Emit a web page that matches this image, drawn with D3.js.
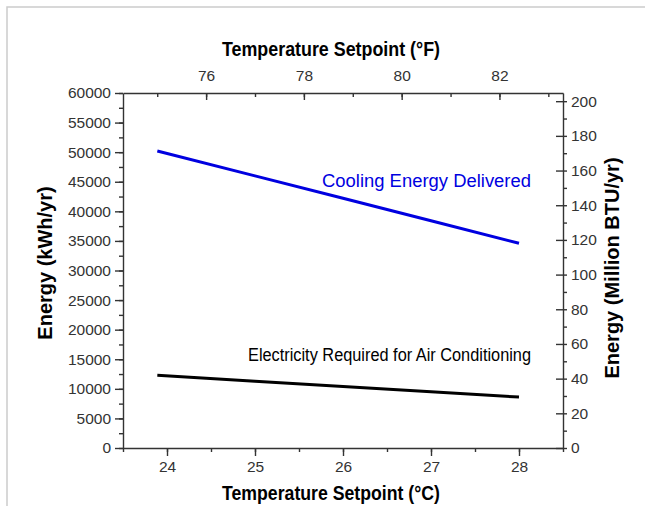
<!DOCTYPE html>
<html>
<head>
<meta charset="utf-8">
<script src="https://cdn.jsdelivr.net/npm/d3@7"></script>
<style>
  body { margin: 0; background: #fff; }
  svg { font-family: "Liberation Sans", Arial, sans-serif; }
  .tick text { fill: #333; font-size: 15.5px; }
  .axis path, .axis line { stroke: #333; stroke-width: 1.4; }
</style>
</head>
<body>
<svg width="645" height="506"></svg>
<script>
// temperature setpoints (°C) and annual energy (kWh/yr)
var tempC = [23.89, 25, 26, 27, 28];
var cooling = [50200, 46000, 42200, 38400, 34600];
var electricity = [12300, 11300, 10400, 9500, 8600];

var cTicks = [24, 25, 26, 27, 28];
var fTicks = [76, 78, 80, 82];
var kwhTicks = [0, 5000, 10000, 15000, 20000, 25000, 30000, 35000, 40000, 45000, 50000, 55000, 60000];
var btuTicks = [0, 20, 40, 60, 80, 100, 120, 140, 160, 180, 200];

var KWH_TO_MBTU = 0.003412;

var svg = d3.select("svg");
var mLeft = 123, mRight = 563, mTop = 93, mBottom = 448;

// faint frame around the figure
svg.append("rect")
  .attr("x", 7).attr("y", 7).attr("width", 700).attr("height", 600)
  .attr("fill", "none").attr("stroke", "#ccc").attr("stroke-width", 1.5);

var x = d3.scaleLinear().domain([23.5, 28.5]).range([mLeft, mRight]);
var xF = d3.scaleLinear().domain([23.5 * 1.8 + 32, 28.5 * 1.8 + 32]).range([mLeft, mRight]);
var y = d3.scaleLinear().domain([0, 60000]).range([mBottom, mTop]);
var yR = d3.scaleLinear().domain([0, 60000 * KWH_TO_MBTU]).range([mBottom, mTop]);

// minor ticks first
function minor(axis, tr) {
  svg.append("g").attr("class", "axis").attr("transform", tr)
    .call(axis).call(g => g.selectAll("text").remove()).call(g => g.select(".domain").remove());
}
minor(d3.axisBottom(x).tickValues(d3.range(23.5, 28.51, 0.5)).tickSize(4), `translate(0,${mBottom})`);
minor(d3.axisBottom(xF).tickValues(d3.range(75, 84, 1)).tickSize(4), `translate(0,${mTop})`);
minor(d3.axisLeft(y).tickValues(d3.range(0, 60001, 2500)).tickSize(4), `translate(${mLeft},0)`);
minor(d3.axisLeft(yR).tickValues(d3.range(0, 201, 10)).tickSize(-4), `translate(${mRight},0)`);

// major axes
svg.append("g").attr("class", "axis")
  .attr("transform", `translate(0,${mBottom})`)
  .call(d3.axisBottom(x).tickValues(cTicks).tickFormat(d3.format("d"))
    .tickSize(8).tickSizeOuter(0).tickPadding(5));

svg.append("g").attr("class", "axis top")
  .attr("transform", `translate(0,${mTop})`)
  .call(d3.axisTop(xF).tickValues(fTicks).tickFormat(d3.format("d")).tickSizeOuter(0).tickPadding(6))
  .call(g => g.selectAll(".tick line").attr("y2", 7));

svg.append("g").attr("class", "axis")
  .attr("transform", `translate(${mLeft},0)`)
  .call(d3.axisLeft(y).tickValues(kwhTicks).tickFormat(d3.format("d")).tickSize(8).tickSizeOuter(0).tickPadding(4));

svg.append("g").attr("class", "axis right")
  .attr("transform", `translate(${mRight},0)`)
  .call(d3.axisRight(yR).tickValues(btuTicks).tickFormat(d3.format("d")).tickSizeOuter(0).tickPadding(2))
  .call(g => g.selectAll(".tick line").attr("x2", -7));

// lines
var line = d3.line().x((d, i) => x(tempC[i])).y(d => y(d));

svg.append("path").datum(cooling)
  .attr("fill", "none").attr("stroke", "#0000e0").attr("stroke-width", 3)
  .attr("d", line);

svg.append("path").datum(electricity)
  .attr("fill", "none").attr("stroke", "#000").attr("stroke-width", 3)
  .attr("d", line);

// line labels
svg.append("text").attr("x", 322).attr("y", 187)
  .attr("fill", "#0000e0").style("font-size", "17.5px")
  .attr("textLength", 209).attr("lengthAdjust", "spacingAndGlyphs")
  .text("Cooling Energy Delivered");

svg.append("text").attr("x", 248).attr("y", 361)
  .attr("fill", "#000").style("font-size", "17.5px")
  .attr("textLength", 283).attr("lengthAdjust", "spacingAndGlyphs")
  .text("Electricity Required for Air Conditioning");

// axis titles
svg.append("text").attr("x", 222).attr("y", 56)
  .style("font-size", "20px").style("font-weight", "bold")
  .attr("textLength", 218).attr("lengthAdjust", "spacingAndGlyphs")
  .text("Temperature Setpoint (°F)");

svg.append("text").attr("x", 222).attr("y", 500)
  .style("font-size", "20px").style("font-weight", "bold")
  .attr("textLength", 218).attr("lengthAdjust", "spacingAndGlyphs")
  .text("Temperature Setpoint (°C)");

svg.append("text")
  .attr("transform", "translate(52,263) rotate(-90)")
  .attr("text-anchor", "middle").style("font-size", "20px").style("font-weight", "bold")
  .text("Energy (kWh/yr)");

svg.append("text")
  .attr("transform", "translate(619,268) rotate(-90)")
  .attr("text-anchor", "middle").style("font-size", "20px").style("font-weight", "bold")
  .text("Energy (Million BTU/yr)");
</script>
</body>
</html>
